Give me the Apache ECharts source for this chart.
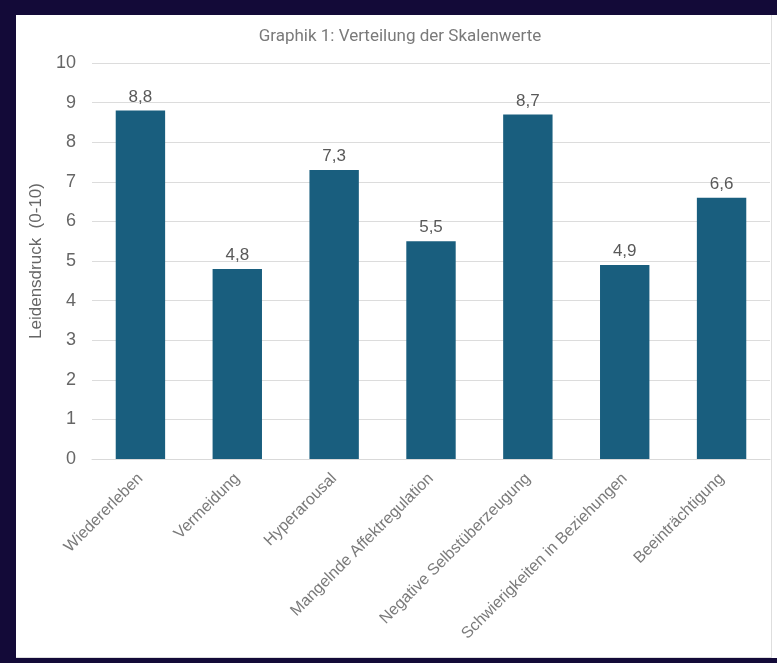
<!DOCTYPE html>
<html>
<head>
<meta charset="utf-8">
<script src="https://cdn.jsdelivr.net/npm/echarts@6/dist/echarts.min.js"></script>
<style>
html,body{margin:0;padding:0;background:#fff;width:777px;height:663px;overflow:hidden;}
#frame{position:absolute;left:0;top:0;width:777px;height:663px;box-sizing:border-box;border-left:16px solid #130a38;border-top:15px solid #130a38;border-bottom:5px solid #130a38;pointer-events:none;}
#rightpad{position:absolute;left:772px;top:15px;width:5px;height:643px;background:#fff;}
#inner{position:absolute;left:16px;top:15px;width:756px;height:643px;box-sizing:border-box;border-right:1px solid #dedede;border-bottom:1px solid #dedede;pointer-events:none;}
#chart{position:absolute;left:0;top:0;width:777px;height:663px;}
</style>
</head>
<body>
<div id="chart"></div>
<div id="rightpad"></div>
<div id="inner"></div>
<div id="frame"></div>
<script>
const categories = ["Wiedererleben","Vermeidung","Hyperarousal","Mangelnde Affektregulation","Negative Selbstüberzeugung","Schwierigkeiten in Beziehungen","Beeinträchtigung"];
const values = [8.8, 4.8, 7.3, 5.5, 8.7, 4.9, 6.6];
const yTicks = [0,1,2,3,4,5,6,7,8,9,10];

const chart = echarts.init(document.getElementById('chart'));
chart.setOption({
  animation:false,
  backgroundColor:'#fff',
  title:{text:'Graphik 1: Verteilung der Skalenwerte',left:395,textAlign:'center',top:23,
    textStyle:{fontFamily:'Roboto',fontSize:17,fontWeight:'normal',color:'#7a7a7a'}},
  grid:{left:92,right:7,top:63,bottom:204},
  xAxis:{type:'category',data:categories,
    axisLine:{lineStyle:{color:'#d9d9d9'}},axisTick:{show:false},
    axisLabel:{rotate:45,interval:0,margin:17,fontFamily:'Liberation Sans',fontSize:16,color:'#7a7a7a'}},
  yAxis:{type:'value',min:yTicks[0],max:yTicks[yTicks.length-1],interval:1,
    name:'Leidensdruck  (0-10)',nameLocation:'middle',nameGap:47,
    nameTextStyle:{fontFamily:'Liberation Sans',fontSize:17,color:'#666'},
    axisLine:{show:false},axisTick:{show:false},
    axisLabel:{fontFamily:'Liberation Sans',fontSize:18,color:'#666',margin:16},
    splitLine:{lineStyle:{color:'#dcdcdc',width:1}}},
  series:[{type:'bar',data:values,barWidth:'51%',
    itemStyle:{color:'#195e7e'},
    label:{show:true,position:'top',distance:5,fontFamily:'Liberation Sans',fontSize:17,color:'#595959',
      formatter:p=>String(p.value).replace('.',',')}}]
});
</script>
</body>
</html>
